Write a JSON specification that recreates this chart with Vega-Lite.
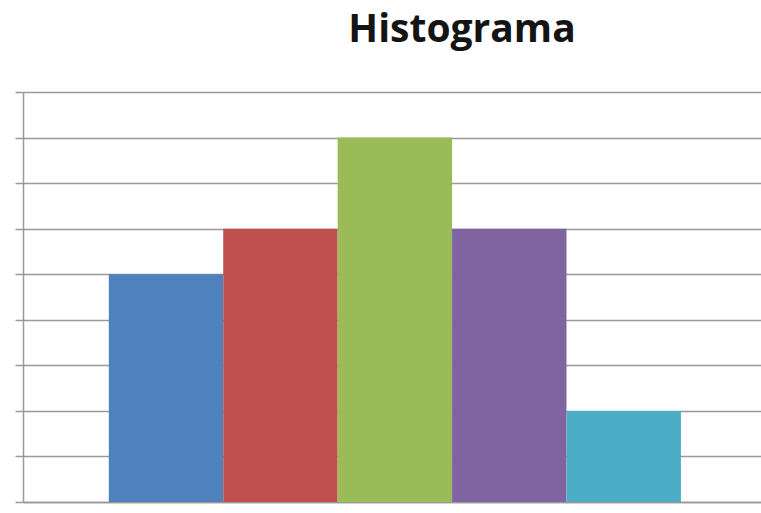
{
  "$schema": "https://vega.github.io/schema/vega-lite/v6.json",
  "autosize": {"type": "none"},
  "width": 738,
  "height": 410,
  "padding": {"left": 23, "top": 92, "right": 0, "bottom": 11},
  "title": {
    "text": "Histograma",
    "font": "Open Sans",
    "fontSize": 39,
    "fontWeight": "bold",
    "color": "#141414",
    "anchor": "middle",
    "dx": 70,
    "baseline": "alphabetic",
    "offset": 10
  },
  "config": {"view": {"stroke": null}},
  "data": {
    "values": [
      {"bin": "1", "start": 0, "end": 1, "count": 5},
      {"bin": "2", "start": 1, "end": 2, "count": 6},
      {"bin": "3", "start": 2, "end": 3, "count": 8},
      {"bin": "4", "start": 3, "end": 4, "count": 6},
      {"bin": "5", "start": 4, "end": 5, "count": 2}
    ]
  },
  "mark": {"type": "bar", "stroke": null},
  "encoding": {
    "x": {
      "field": "start",
      "type": "quantitative",
      "scale": {"domain": [-0.75, 5.7], "nice": false, "zero": false},
      "axis": {"domain": true, "domainColor": "#999999", "domainWidth": 1.5, "grid": false, "ticks": false, "labels": false, "title": null}
    },
    "x2": {"field": "end"},
    "y": {
      "field": "count",
      "type": "quantitative",
      "scale": {"domain": [0, 9], "nice": false},
      "axis": {
        "values": [0, 1, 2, 3, 4, 5, 6, 7, 8, 9],
        "labels": false,
        "title": null,
        "grid": true,
        "gridColor": "#999999",
        "gridWidth": 1.5,
        "domainColor": "#999999",
        "domainWidth": 1.5,
        "tickColor": "#999999",
        "tickWidth": 1.5,
        "tickSize": 8
      }
    },
    "y2": {"datum": 0},
    "color": {
      "field": "bin",
      "type": "nominal",
      "scale": {"range": ["#4F81BD", "#C0504D", "#9BBB59", "#8064A2", "#4BACC6"]},
      "legend": null
    }
  }
}
